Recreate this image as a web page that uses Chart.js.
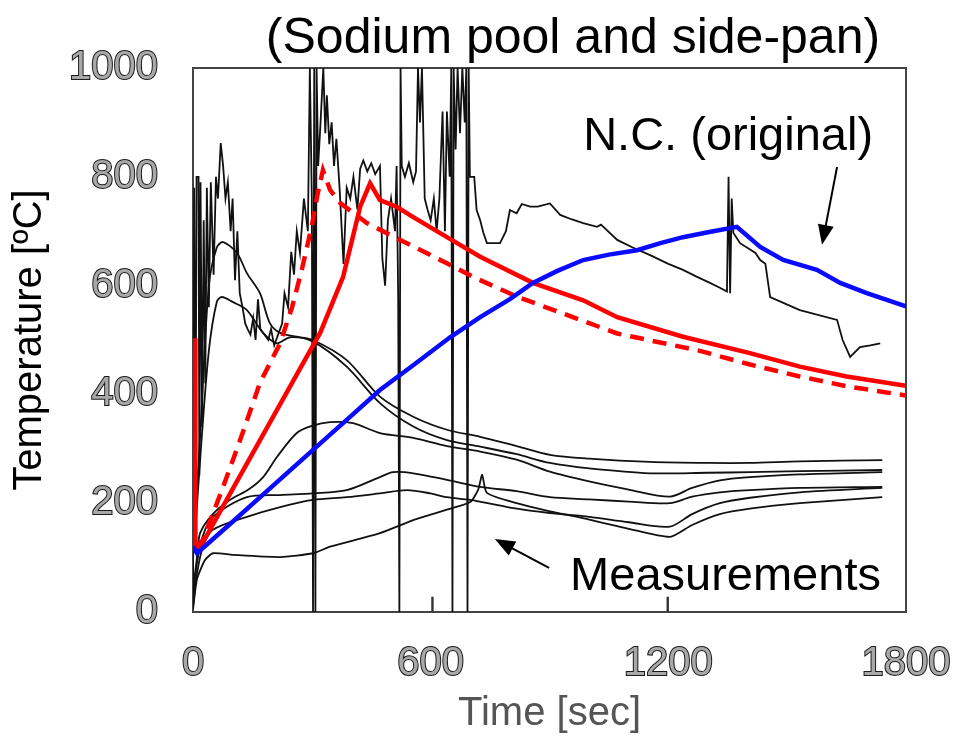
<!DOCTYPE html>
<html>
<head>
<meta charset="utf-8">
<script src="https://cdn.jsdelivr.net/npm/chart.js@4.4.1/dist/chart.umd.min.js"></script>
<style>
  html, body { margin: 0; padding: 0; background: #fff; }
  #wrap { width: 953px; height: 741px; position: relative; }
</style>
</head>
<body>
<div id="wrap"><canvas id="tempChart"></canvas></div>
<script>
// ---- data (time in s, temperature in degC) ----
const xTicks = [0, 600, 1200, 1800];
const yTicks = [0, 200, 400, 600, 800, 1000];

// N.C. (original) - blue
const ncTime = [0, 10, 100, 200, 303, 400, 472, 560, 649, 725, 800, 858, 920, 985, 1050, 1121, 1180, 1237, 1300, 1373, 1432, 1490, 1575, 1634, 1701, 1800];
const ncTemp = [120, 108, 166, 231, 298, 361, 408, 456, 505, 542, 575, 605, 627, 647, 657, 665, 678, 689, 698, 708, 671, 647, 629, 605, 586, 562];

// red solid
const solidTime = [6, 6, 18, 100, 200, 283, 321, 379, 422, 447, 472, 514, 556, 641, 725, 858, 985, 1071, 1237, 1406, 1532, 1650, 1800];
const solidTemp = [503, 120, 119, 226, 356, 464, 513, 616, 745, 788, 757, 745, 726, 689, 653, 605, 573, 542, 506, 476, 451, 433, 416];

// red dashed
const dashTime = [6, 25, 76, 119, 169, 220, 250, 275, 300, 315, 328, 346, 371, 439, 523, 641, 707, 817, 1071, 1280, 1406, 1532, 1650, 1800];
const dashTemp = [118, 132, 230, 316, 421, 494, 560, 630, 710, 770, 812, 776, 752, 715, 684, 641, 616, 580, 512, 480, 455, 433, 415, 398];

// measurements - noisy thermocouple (with dropouts)
const m1Time = [0, 3, 6, 9, 14, 16, 19, 23, 27, 31, 35, 40, 45, 52, 58, 63, 70, 76, 82, 88, 95, 100, 106, 112, 118, 125, 132, 138, 145, 152, 158, 164, 170, 180, 190, 197, 205, 215, 225, 231, 240, 248, 255, 262, 270, 280, 290, 295, 300, 303, 306, 309, 312, 316, 322, 329, 334, 338, 344, 350, 356, 362, 370, 380, 388, 397, 405, 415, 422, 430, 440, 450, 460, 472, 478, 485, 492, 500, 510, 514, 518, 521, 524, 527, 535, 545, 556, 563, 568, 573, 578, 585, 592, 600, 608, 615, 622, 630, 636, 641, 648, 652, 655, 658, 663, 668, 674, 680, 686, 690, 693, 696, 699, 710, 716, 725, 733, 742, 775, 790, 800, 817, 830, 851, 870, 901, 927, 955, 985, 1020, 1030, 1071, 1110, 1154, 1200, 1237, 1270, 1305, 1330, 1348, 1352, 1356, 1360, 1364, 1381, 1420, 1432, 1445, 1457, 1532, 1626, 1640, 1659, 1684, 1710, 1735];
const m1Temp = [20, 780, 150, 800, 800, 250, 790, 340, 720, 420, 780, 560, 790, 620, 800, 760, 862, 820, 760, 790, 700, 760, 610, 700, 586, 560, 530, 520, 510, 540, 500, 575, 520, 510, 500, 520, 490, 510, 530, 586, 560, 662, 620, 700, 660, 760, 700, 1000, 760, 0, 1000, 0, 1000, 820, 900, 1000, 880, 950, 860, 900, 820, 870, 780, 640, 780, 760, 800, 740, 815, 830, 810, 825, 805, 820, 650, 600, 720, 760, 700, 820, 580, 0, 1000, 820, 800, 825, 790, 810, 1000, 900, 1000, 760, 740, 720, 760, 700, 760, 920, 700, 920, 800, 1000, 0, 1000, 850, 1000, 880, 1000, 900, 1000, 0, 1000, 800, 800, 739, 720, 697, 678, 678, 700, 739, 733, 750, 745, 745, 751, 730, 722, 715, 708, 712, 684, 670, 656, 640, 629, 617, 605, 596, 589, 800, 586, 760, 697, 678, 660, 647, 640, 579, 555, 537, 500, 469, 487, 490, 494];

// measurements - smoother thermocouples
const m2Time = [3, 20, 40, 60, 76, 111, 136, 169, 194, 220, 262, 303, 388, 472, 556, 641, 725, 817, 901, 1000, 1154, 1300, 1406, 1532, 1740];
const m2Temp = [130, 350, 600, 670, 680, 660, 623, 586, 531, 513, 506, 500, 463, 396, 359, 335, 322, 305, 289, 282, 276, 274, 274, 277, 279];

const m3Time = [3, 20, 40, 60, 73, 100, 136, 177, 212, 245, 303, 388, 472, 556, 641, 725, 817, 901, 1000, 1154, 1300, 1406, 1532, 1740];
const m3Temp = [120, 300, 480, 570, 579, 570, 555, 513, 494, 505, 497, 451, 384, 341, 316, 304, 290, 274, 264, 255, 256, 257, 259, 261];

const m4Time = [0, 10, 18, 50, 93, 140, 177, 212, 262, 300, 346, 404, 472, 556, 641, 725, 817, 901, 1000, 1100, 1204, 1260, 1330, 1406, 1532, 1740];
const m4Temp = [40, 100, 145, 180, 206, 225, 248, 285, 329, 342, 349, 347, 329, 320, 305, 295, 280, 258, 240, 225, 212, 228, 242, 248, 253, 257];

const m5Time = [0, 10, 25, 50, 136, 220, 303, 388, 472, 505, 556, 641, 725, 817, 901, 1000, 1100, 1204, 1260, 1330, 1406, 1532, 1740];
const m5Temp = [20, 90, 140, 175, 211, 215, 218, 224, 248, 257, 255, 243, 230, 222, 211, 207, 203, 200, 212, 220, 224, 228, 230];

const m6Time = [0, 10, 25, 50, 136, 220, 303, 388, 472, 540, 600, 641, 700, 800, 901, 1000, 1100, 1204, 1260, 1330, 1406, 1532, 1740];
const m6Temp = [10, 70, 120, 151, 175, 193, 206, 211, 218, 224, 218, 211, 206, 192, 182, 175, 165, 157, 180, 200, 210, 220, 228];

const m7Time = [0, 10, 30, 50, 100, 220, 303, 346, 472, 556, 641, 700, 720, 730, 742, 817, 901, 1000, 1100, 1204, 1260, 1330, 1406, 1532, 1740];
const m7Temp = [5, 60, 95, 108, 105, 101, 108, 120, 145, 169, 188, 202, 225, 252, 219, 200, 185, 170, 153, 138, 160, 180, 190, 200, 211];

// short glitches at the bottom axis
const glitchTime = [603, 606, 1197, 1200];
const glitchTop = 28;

// ---- helpers ----
const FONT = '"Liberation Sans", Arial, Helvetica, sans-serif';

function toPoints(times, temps) {
    return times.map((t, i) => ({ x: t, y: temps[i] }));
}

function glitchPoints() {
    const pts = [];
    glitchTime.forEach(t => {
        pts.push({ x: t, y: 0 }, { x: t, y: glitchTop }, { x: t + 0.5, y: null });
    });
    return pts;
}

function measurement(times, temps, tension) {
    return {
        data: toPoints(times, temps),
        borderColor: '#111',
        borderWidth: 1.8,
        pointRadius: 0,
        tension: tension,
        order: 3
    };
}

// frame, title and annotations
const overlay = {
    id: 'overlay',
    beforeDatasetsDraw(chart) {
        const { ctx, chartArea: a } = chart;
        ctx.save();
        ctx.strokeStyle = '#444';
        ctx.lineWidth = 2;
        ctx.strokeRect(a.left, a.top, a.right - a.left, a.bottom - a.top);
        ctx.restore();
    },
    afterDraw(chart) {
        const { ctx, scales: { x, y } } = chart;
        ctx.save();
        ctx.fillStyle = '#000';
        ctx.textBaseline = 'alphabetic';

        // title
        ctx.font = '50px ' + FONT;
        ctx.textAlign = 'center';
        ctx.fillText('(Sodium pool and side-pan)', 573, 53);

        // annotations
        ctx.font = '47px ' + FONT;
        ctx.textAlign = 'left';
        ctx.fillText('N.C. (original)', x.getPixelForValue(985), y.getPixelForValue(849));
        ctx.fillText('Measurements', x.getPixelForValue(952), y.getPixelForValue(40));

        drawArrow(ctx, x.getPixelForValue(1626), y.getPixelForValue(818), x.getPixelForValue(1588), y.getPixelForValue(675));
        drawArrow(ctx, x.getPixelForValue(899), y.getPixelForValue(81), x.getPixelForValue(762), y.getPixelForValue(134));
        ctx.restore();
    }
};

function drawArrow(ctx, x0, y0, x1, y1) {
    const ang = Math.atan2(y1 - y0, x1 - x0);
    const len = 20, half = 8;
    ctx.strokeStyle = '#000';
    ctx.lineWidth = 2;
    ctx.beginPath();
    ctx.moveTo(x0, y0);
    ctx.lineTo(x1 - Math.cos(ang) * len * 0.8, y1 - Math.sin(ang) * len * 0.8);
    ctx.stroke();
    ctx.beginPath();
    ctx.moveTo(x1, y1);
    ctx.lineTo(x1 - Math.cos(ang) * len + Math.sin(ang) * half, y1 - Math.sin(ang) * len - Math.cos(ang) * half);
    ctx.lineTo(x1 - Math.cos(ang) * len - Math.sin(ang) * half, y1 - Math.sin(ang) * len + Math.cos(ang) * half);
    ctx.closePath();
    ctx.fill();
}

const tickFont = { family: FONT, size: 40 };
const plainLabel = v => String(v);

new Chart(document.getElementById('tempChart'), {
    type: 'line',
    data: {
        datasets: [
            { data: toPoints(ncTime, ncTemp), borderColor: '#0a0aff', borderWidth: 4.5, pointRadius: 0, order: 0 },
            { data: toPoints(solidTime, solidTemp), borderColor: '#ff0000', borderWidth: 4.5, pointRadius: 0, order: 1 },
            { data: toPoints(dashTime, dashTemp), borderColor: '#ff0000', borderWidth: 4.5, borderDash: [14, 9], pointRadius: 0, order: 1 },
            measurement(m1Time, m1Temp, 0),
            measurement(m2Time, m2Temp, 0.3),
            measurement(m3Time, m3Temp, 0.3),
            measurement(m4Time, m4Temp, 0.3),
            measurement(m5Time, m5Temp, 0.3),
            measurement(m6Time, m6Temp, 0.3),
            measurement(m7Time, m7Temp, 0.2),
            { data: glitchPoints(), borderColor: '#333', borderWidth: 1.2, pointRadius: 0, spanGaps: false, order: 3 }
        ]
    },
    options: {
        responsive: true,
        maintainAspectRatio: false,
        animation: false,
        layout: { padding: { top: 68, right: 47, left: 0, bottom: 0 } },
        plugins: { legend: { display: false }, tooltip: { enabled: false } },
        scales: {
            x: {
                type: 'linear',
                min: 0,
                max: 1800,
                afterBuildTicks: s => { s.ticks = xTicks.map(v => ({ value: v })); },
                afterFit: s => { s.height = 129; s.paddingLeft = 0; s.paddingRight = 0; },
                grid: { display: false, drawTicks: false },
                border: { display: false },
                ticks: { font: tickFont, color: '#a8a8a8', textStrokeColor: '#1a1a1a', textStrokeWidth: 2, padding: 28, maxRotation: 0, callback: plainLabel },
                title: { display: true, text: 'Time [sec]', font: tickFont, color: '#555', padding: { top: 0, bottom: 3 } }
            },
            y: {
                min: 0,
                max: 1000,
                afterBuildTicks: s => { s.ticks = yTicks.map(v => ({ value: v })); },
                afterFit: s => { s.width = 193; s.paddingTop = 0; s.paddingBottom = 0; },
                grid: { display: false, drawTicks: false },
                border: { display: false },
                ticks: { font: tickFont, color: '#a8a8a8', textStrokeColor: '#1a1a1a', textStrokeWidth: 2, padding: 35, callback: plainLabel },
                title: { display: true, text: 'Temperature [ºC]', font: tickFont, color: '#000', padding: { top: 6, bottom: 0 } }
            }
        }
    },
    plugins: [overlay]
});
</script>
</body>
</html>
